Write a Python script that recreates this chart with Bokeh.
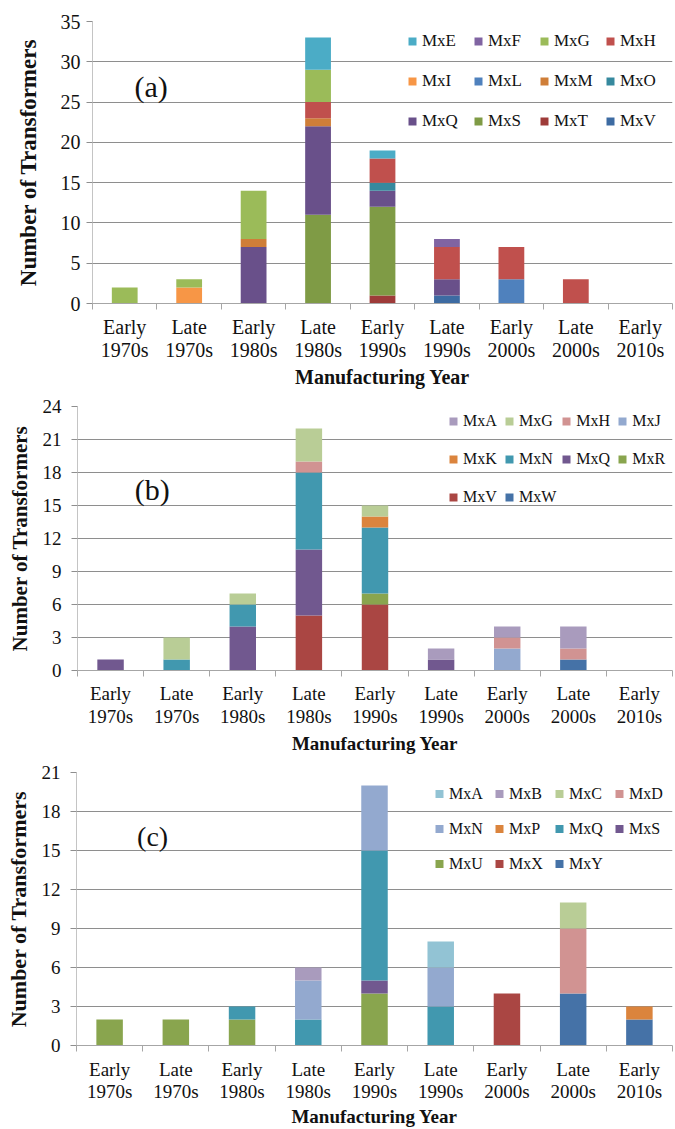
from bokeh.plotting import figure
from bokeh.models import Range1d, FixedTicker, Legend, LegendItem, Label, ColumnDataSource
from bokeh.layouts import column
from bokeh.embed import file_html
from bokeh.resources import INLINE

categories = ["Early 1970s", "Late 1970s", "Early 1980s", "Late 1980s", "Early 1990s",
              "Late 1990s", "Early 2000s", "Late 2000s", "Early 2010s"]
tick_labels = [c.replace(" ", "\n") for c in categories]

# ---------------- Panel (a) ----------------  (legend order; stacked bottom->top in reverse)
a_names = ["MxE", "MxF", "MxG", "MxH", "MxI", "MxL", "MxM", "MxO", "MxQ", "MxS", "MxT", "MxV"]
a_MxE = [0, 0, 0, 4, 1, 0, 0, 0, 0]
a_MxF = [0, 0, 0, 0, 0, 1, 0, 0, 0]
a_MxG = [2, 1, 6, 4, 0, 0, 0, 0, 0]
a_MxH = [0, 0, 0, 2, 3, 4, 4, 3, 0]
a_MxI = [0, 2, 0, 0, 0, 0, 0, 0, 0]
a_MxL = [0, 0, 0, 0, 0, 0, 3, 0, 0]
a_MxM = [0, 0, 1, 1, 0, 0, 0, 0, 0]
a_MxO = [0, 0, 0, 0, 1, 0, 0, 0, 0]
a_MxQ = [0, 0, 7, 11, 2, 2, 0, 0, 0]
a_MxS = [0, 0, 0, 11, 11, 0, 0, 0, 0]
a_MxT = [0, 0, 0, 0, 1, 0, 0, 0, 0]
a_MxV = [0, 0, 0, 0, 0, 1, 0, 0, 0]
a_values = dict(MxE=a_MxE, MxF=a_MxF, MxG=a_MxG, MxH=a_MxH, MxI=a_MxI, MxL=a_MxL,
                MxM=a_MxM, MxO=a_MxO, MxQ=a_MxQ, MxS=a_MxS, MxT=a_MxT, MxV=a_MxV)
a_colors = ["#4BACC6", "#8064A2", "#9BBB59", "#C0504D", "#F79646", "#4F81BD",
            "#CF7E38", "#36899E", "#69508A", "#7F9B45", "#9E3B39", "#3D6BA2"]

# ---------------- Panel (b) ----------------
b_names = ["MxA", "MxG", "MxH", "MxJ", "MxK", "MxN", "MxQ", "MxR", "MxV", "MxW"]
b_MxA = [0, 0, 0, 0, 0, 1, 1, 2, 0]
b_MxG = [0, 2, 1, 3, 1, 0, 0, 0, 0]
b_MxH = [0, 0, 0, 1, 0, 0, 1, 1, 0]
b_MxJ = [0, 0, 0, 0, 0, 0, 2, 0, 0]
b_MxK = [0, 0, 0, 0, 1, 0, 0, 0, 0]
b_MxN = [0, 1, 2, 7, 6, 0, 0, 0, 0]
b_MxQ = [1, 0, 4, 6, 0, 1, 0, 0, 0]
b_MxR = [0, 0, 0, 0, 1, 0, 0, 0, 0]
b_MxV = [0, 0, 0, 5, 6, 0, 0, 0, 0]
b_MxW = [0, 0, 0, 0, 0, 0, 0, 1, 0]
b_values = dict(MxA=b_MxA, MxG=b_MxG, MxH=b_MxH, MxJ=b_MxJ, MxK=b_MxK,
                MxN=b_MxN, MxQ=b_MxQ, MxR=b_MxR, MxV=b_MxV, MxW=b_MxW)
b_colors = ["#A99BBD", "#B9CD96", "#D19392", "#93A9CF", "#DB843D",
            "#4198AF", "#71588F", "#89A54E", "#AA4643", "#4572A7"]

# ---------------- Panel (c) ----------------
c_names = ["MxA", "MxB", "MxC", "MxD", "MxN", "MxP", "MxQ", "MxS", "MxU", "MxX", "MxY"]
c_MxA = [0, 0, 0, 0, 0, 2, 0, 0, 0]
c_MxB = [0, 0, 0, 1, 0, 0, 0, 0, 0]
c_MxC = [0, 0, 0, 0, 0, 0, 0, 2, 0]
c_MxD = [0, 0, 0, 0, 0, 0, 0, 5, 0]
c_MxN = [0, 0, 0, 3, 5, 3, 0, 0, 0]
c_MxP = [0, 0, 0, 0, 0, 0, 0, 0, 1]
c_MxQ = [0, 0, 1, 2, 10, 3, 0, 0, 0]
c_MxS = [0, 0, 0, 0, 1, 0, 0, 0, 0]
c_MxU = [2, 2, 2, 0, 4, 0, 0, 0, 0]
c_MxX = [0, 0, 0, 0, 0, 0, 4, 0, 0]
c_MxY = [0, 0, 0, 0, 0, 0, 0, 4, 2]
c_values = dict(MxA=c_MxA, MxB=c_MxB, MxC=c_MxC, MxD=c_MxD, MxN=c_MxN, MxP=c_MxP,
                MxQ=c_MxQ, MxS=c_MxS, MxU=c_MxU, MxX=c_MxX, MxY=c_MxY)
c_colors = ["#92C3D4", "#A99BBD", "#B9CD96", "#D19392", "#93A9CF", "#DB843D",
            "#4198AF", "#71588F", "#89A54E", "#AA4643", "#4572A7"]

FONT = "Liberation Serif"
TXT = "#111111"
GRID = "#8E8E8E"
AXIS = "#A6A6A6"


def panel(names, values, colors, ymax, ystep, tag, cfg):
    n = len(categories)
    xs = list(range(n))
    data = {"x": xs}
    for nm in names:
        data[nm] = values[nm]
    src = ColumnDataSource(data)
    p = figure(width=675, height=cfg["height"],
               x_range=Range1d(-0.5, n - 0.5), y_range=Range1d(0, ymax),
               output_backend="svg", toolbar_location=None,
               min_border_left=cfg["left"], min_border_right=3,
               min_border_top=cfg["top"], min_border_bottom=cfg["bottom"])
    p.frame_align = False
    p.outline_line_color = None
    cmap = dict(zip(names, colors))
    stack = names[::-1]
    p.vbar_stack(stack, x="x", width=0.4, source=src,
                 fill_color=[cmap[s] for s in stack], line_color=None)

    # x axis: labels centred under bars, small ticks at category boundaries
    xa = p.xaxis[0]
    xa.ticker = FixedTicker(ticks=xs, minor_ticks=[i - 0.5 for i in range(n + 1)])
    xa.major_label_overrides = {x: t for x, t in zip(xs, tick_labels)}
    xa.major_tick_out = 0
    xa.major_tick_in = 0
    xa.minor_tick_out = 6
    xa.minor_tick_in = 0
    xa.minor_tick_line_color = AXIS
    xa.axis_line_color = AXIS
    xa.major_label_standoff = cfg["cat_so"]
    xa.major_label_text_font = FONT
    xa.major_label_text_font_size = cfg["cat_fs"]
    xa.major_label_text_color = TXT
    xa.major_label_text_line_height = cfg["cat_lh"]
    xa.axis_label = "Manufacturing Year"
    xa.axis_label_text_font = FONT
    xa.axis_label_text_font_style = "bold"
    xa.axis_label_text_font_size = cfg["xt_fs"]
    xa.axis_label_text_color = TXT
    xa.axis_label_standoff = cfg["xlab_so"]

    # y axis
    ya = p.yaxis[0]
    ya.ticker = FixedTicker(ticks=list(range(0, ymax + 1, ystep)))
    ya.major_tick_out = 6
    ya.major_tick_in = 0
    ya.major_tick_line_color = GRID
    ya.minor_tick_out = 0
    ya.minor_tick_in = 0
    ya.axis_line_color = "#C4C4C4"
    ya.major_label_standoff = cfg["ytick_so"]
    ya.major_label_text_font = FONT
    ya.major_label_text_font_size = cfg["tick_fs"]
    ya.major_label_text_color = TXT
    ya.axis_label = "Number of Transformers"
    ya.axis_label_text_font = FONT
    ya.axis_label_text_font_style = "bold"
    ya.axis_label_text_font_size = cfg["yt_fs"]
    ya.axis_label_text_color = TXT
    ya.axis_label_standoff = cfg["ylab_so"]

    p.xgrid.visible = False
    p.ygrid.grid_line_color = GRID
    p.ygrid.grid_line_width = 1

    # legend (square markers, 4 columns); zero-size markers only feed the legend
    items = []
    for nm in names:
        r = p.scatter(x="x", y=nm, source=src, marker="square", size=0,
                      fill_color=cmap[nm], line_color=None)
        items.append(LegendItem(label=nm, renderers=[r]))
    leg = Legend(items=items, location=cfg["leg_loc"], orientation="horizontal", ncols=4,
                 glyph_width=20, glyph_height=cfg["row"], label_width=cfg["lw"],
                 label_height=20, label_standoff=0, spacing=0, padding=0, margin=0,
                 border_line_color=None, background_fill_alpha=0,
                 label_text_font=FONT, label_text_font_size=cfg["leg_fs"],
                 label_text_color=TXT)
    p.add_layout(leg)

    p.add_layout(Label(x=cfg["tag_xy"][0], y=cfg["tag_xy"][1], text=tag,
                       text_font=FONT, text_font_size=cfg["tag_fs"], text_color=TXT,
                       text_align="center", text_baseline="middle"))
    return p


pa = panel(a_names, a_values, a_colors, 35, 5, "(a)",
           dict(height=392, left=92, top=21, bottom=89, cat_fs="20px", cat_lh=1.05, cat_so=6,
                xt_fs="20px", xlab_so=2, ytick_so=6, tick_fs="20px", yt_fs="23px", ylab_so=17,
                leg_loc=(310, 162), row=40, lw=46, leg_fs="17px",
                tag_xy=(0.41, 26.9), tag_fs="30px"))
pb = panel(b_names, b_values, b_colors, 24, 3, "(b)",
           dict(height=368, left=77, top=14, bottom=90, cat_fs="19px", cat_lh=1.12, cat_so=6,
                xt_fs="19px", xlab_so=3, ytick_so=10, tick_fs="19px", yt_fs="21px", ylab_so=8,
                leg_loc=(366, 154), row=38, lw=36, leg_fs="16px",
                tag_xy=(0.63, 16.45), tag_fs="30px"))
pc = panel(c_names, c_values, c_colors, 21, 3, "(c)",
           dict(height=369, left=76, top=12, bottom=81, cat_fs="19px", cat_lh=1.05, cat_so=7,
                xt_fs="19px", xlab_so=1, ytick_so=10, tick_fs="19px", yt_fs="22px", ylab_so=8,
                leg_loc=(353, 164), row=35, lw=40, leg_fs="16px",
                tag_xy=(0.65, 16.1), tag_fs="28px"))

layout = column(pa, pb, pc, spacing=0)
open("out.html", "w").write(file_html(layout, INLINE))
